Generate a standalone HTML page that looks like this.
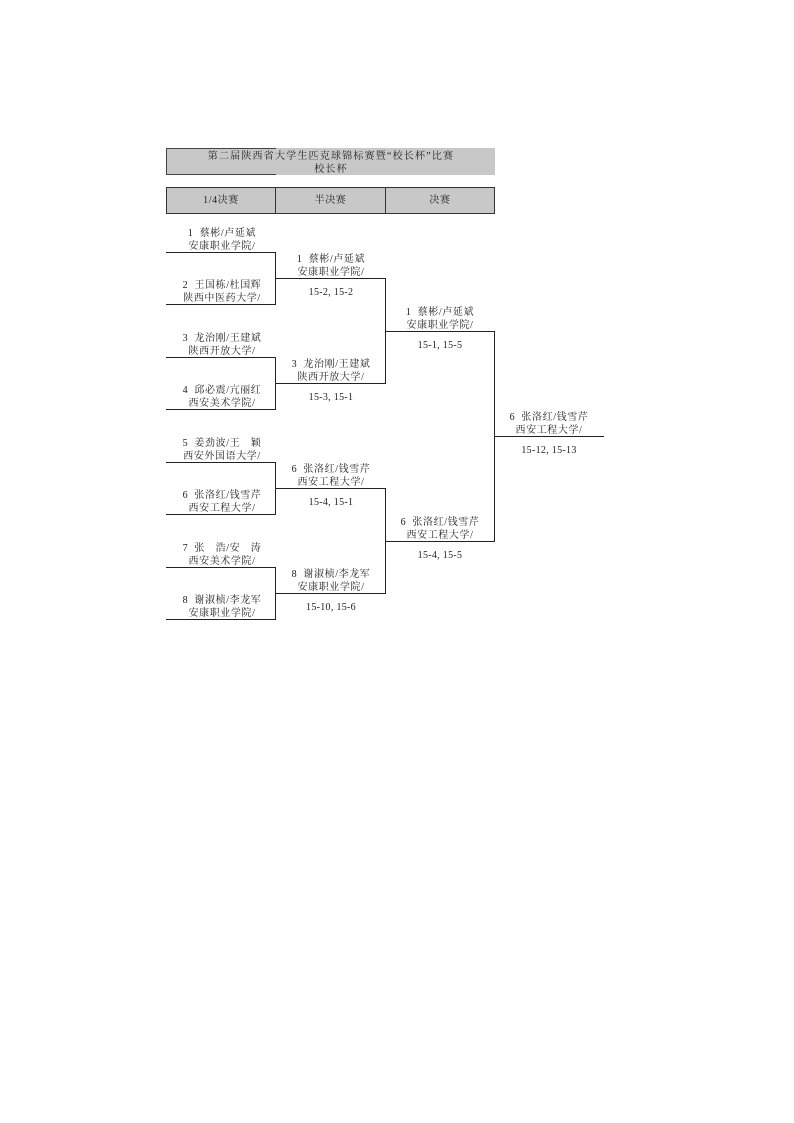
<!DOCTYPE html>
<html><head><meta charset="utf-8"><style>
body{margin:0;width:794px;height:1123px;background:#fff;position:relative;overflow:hidden;font-family:"Liberation Serif","Noto Serif CJK SC",serif;color:#222;font-size:10px}
.h{position:absolute;height:1.3px;background:#222}
.v{position:absolute;width:1.3px;background:#222}
.t{position:absolute;width:120px;text-align:center;line-height:13px;white-space:nowrap;letter-spacing:0.6px}
.s{letter-spacing:0.3px}
.box{position:absolute;background:#c8c8c8;text-align:center;box-sizing:border-box}
</style></head><body>
<div class="box" style="left:166px;top:148px;width:329px;height:27px;line-height:12.5px;padding-top:3px;border-left:1.3px solid #444;letter-spacing:1.2px">第二届陕西省大学生匹克球锦标赛暨“校长杯”比赛<br>校长杯</div>
<div class="h" style="left:166px;top:148px;width:110px;background:#444"></div>
<div class="h" style="left:166px;top:174px;width:110px;background:#444"></div>
<div class="box" style="left:166px;top:187px;width:110px;height:27px;line-height:25px;border:1.3px solid #333;letter-spacing:0.6px">1/4决赛</div>
<div class="box" style="left:275px;top:187px;width:111px;height:27px;line-height:25px;border:1.3px solid #333;letter-spacing:0.6px">半决赛</div>
<div class="box" style="left:385px;top:187px;width:110px;height:27px;line-height:25px;border:1.3px solid #333;letter-spacing:0.6px">决赛</div>

<div class="h" style="left:166px;top:252px;width:110px"></div>
<div class="h" style="left:166px;top:304px;width:110px"></div>
<div class="h" style="left:166px;top:357px;width:110px"></div>
<div class="h" style="left:166px;top:409px;width:110px"></div>
<div class="h" style="left:166px;top:462px;width:110px"></div>
<div class="h" style="left:166px;top:514px;width:110px"></div>
<div class="h" style="left:166px;top:567px;width:110px"></div>
<div class="h" style="left:166px;top:619px;width:110px"></div>
<div class="v" style="left:275px;top:252px;height:53px"></div>
<div class="v" style="left:275px;top:357px;height:53px"></div>
<div class="v" style="left:275px;top:462px;height:53px"></div>
<div class="v" style="left:275px;top:567px;height:53px"></div>
<div class="h" style="left:276px;top:278px;width:110px"></div>
<div class="h" style="left:276px;top:383px;width:110px"></div>
<div class="h" style="left:276px;top:488px;width:110px"></div>
<div class="h" style="left:276px;top:593px;width:110px"></div>
<div class="v" style="left:385px;top:278px;height:106px"></div>
<div class="v" style="left:385px;top:488px;height:106px"></div>
<div class="h" style="left:385px;top:331px;width:110px"></div>
<div class="h" style="left:385px;top:541px;width:110px"></div>
<div class="v" style="left:494px;top:331px;height:211px"></div>
<div class="h" style="left:494px;top:436px;width:110px"></div>

<div class="t" style="left:162px;top:227px">1&nbsp; 蔡彬/卢延斌<br>安康职业学院/</div>
<div class="t" style="left:162px;top:279px">2&nbsp; 王国栋/杜国辉<br>陕西中医药大学/</div>
<div class="t" style="left:162px;top:332px">3&nbsp; 龙治刚/王建斌<br>陕西开放大学/</div>
<div class="t" style="left:162px;top:384px">4&nbsp; 邱必震/亢丽红<br>西安美术学院/</div>
<div class="t" style="left:162px;top:437px">5&nbsp; 姜劲波/王　颖<br>西安外国语大学/</div>
<div class="t" style="left:162px;top:489px">6&nbsp; 张洛红/钱雪芹<br>西安工程大学/</div>
<div class="t" style="left:162px;top:542px">7&nbsp; 张　浩/安　涛<br>西安美术学院/</div>
<div class="t" style="left:162px;top:594px">8&nbsp; 谢淑桢/李龙军<br>安康职业学院/</div>

<div class="t" style="left:271px;top:253px">1&nbsp; 蔡彬/卢延斌<br>安康职业学院/</div>
<div class="t s" style="left:271px;top:286px">15-2, 15-2</div>
<div class="t" style="left:271px;top:358px">3&nbsp; 龙治刚/王建斌<br>陕西开放大学/</div>
<div class="t s" style="left:271px;top:391px">15-3, 15-1</div>
<div class="t" style="left:271px;top:463px">6&nbsp; 张洛红/钱雪芹<br>西安工程大学/</div>
<div class="t s" style="left:271px;top:496px">15-4, 15-1</div>
<div class="t" style="left:271px;top:568px">8&nbsp; 谢淑桢/李龙军<br>安康职业学院/</div>
<div class="t s" style="left:271px;top:601px">15-10, 15-6</div>

<div class="t" style="left:380px;top:306px">1&nbsp; 蔡彬/卢延斌<br>安康职业学院/</div>
<div class="t s" style="left:380px;top:339px">15-1, 15-5</div>
<div class="t" style="left:380px;top:516px">6&nbsp; 张洛红/钱雪芹<br>西安工程大学/</div>
<div class="t s" style="left:380px;top:549px">15-4, 15-5</div>

<div class="t" style="left:489px;top:411px">6&nbsp; 张洛红/钱雪芹<br>西安工程大学/</div>
<div class="t s" style="left:489px;top:444px">15-12, 15-13</div>
</body></html>
